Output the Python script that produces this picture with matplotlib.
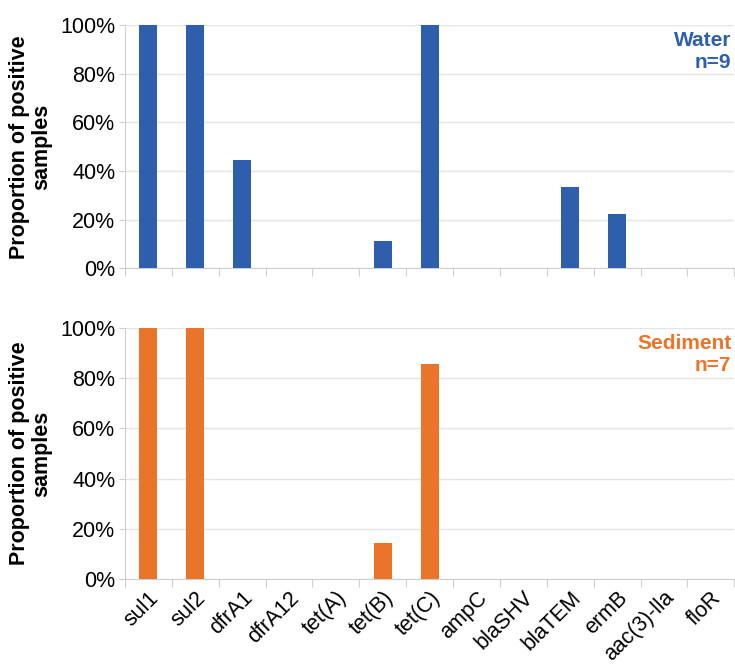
import matplotlib.pyplot as plt
import numpy as np
from matplotlib.ticker import PercentFormatter

GENES = ["sul1", "sul2", "dfrA1", "dfrA12", "tet(A)", "tet(B)", "tet(C)",
         "ampC", "blaSHV", "blaTEM", "ermB", "aac(3)-lla", "floR"]
WATER = [100, 100, 44.4, 0, 0, 11.1, 100, 0, 0, 33.3, 22.2, 0, 0]
SEDIMENT = [100, 100, 0, 0, 0, 14.3, 85.7, 0, 0, 0, 0, 0, 0]
PANELS = [("Water\nn=9", WATER, "#2e5fac"), ("Sediment\nn=7", SEDIMENT, "#ea7429")]

plt.rcParams["font.family"] = ["Liberation Sans", "DejaVu Sans"]

fig = plt.figure(figsize=(7.35, 6.64), dpi=100)
boxes = [[0.170, 0.596, 0.829, 0.366], [0.170, 0.128, 0.829, 0.378]]
x = np.arange(len(GENES))

for box, (label, values, color) in zip(boxes, PANELS):
    ax = fig.add_axes(box)
    ax.bar(x, values, width=0.38, color=color, zorder=3)
    ax.set_xlim(-0.5, len(GENES) - 0.5)
    ax.set_ylim(0, 100)
    ax.set_yticks(range(0, 101, 20))
    ax.yaxis.set_major_formatter(PercentFormatter(decimals=0))
    ax.grid(axis="y", color="#e4e4e4", linewidth=1, zorder=0)
    for side in ["top", "right"]:
        ax.spines[side].set_visible(False)
    for side in ["left", "bottom"]:
        ax.spines[side].set_color("#cfcfcf")
    ax.tick_params(axis="y", length=4, color="#cfcfcf", labelsize=15.5, pad=3)
    # category separators on the x axis
    ax.set_xticks(np.arange(-0.5, len(GENES), 1))
    ax.set_xticklabels([])
    ax.tick_params(axis="x", which="major", length=6, color="#cfcfcf", direction="out")
    ax.set_xticks(x, minor=True)
    ax.tick_params(axis="x", which="minor", length=0)
    ax.set_ylabel("Proportion of positive\nsamples", fontsize=15.5,
                  fontweight="bold", labelpad=6, linespacing=1.05)
    ax.text(0.995, 0.975, label, transform=ax.transAxes, ha="right", va="top",
            color=color, fontsize=15, fontweight="bold", linespacing=1.15)

ax.set_xticklabels(GENES, minor=True, rotation=45, ha="right",
                   rotation_mode="anchor", fontsize=15.5)
ax.tick_params(axis="x", which="minor", pad=6)

fig.savefig("out.png", dpi=100)
